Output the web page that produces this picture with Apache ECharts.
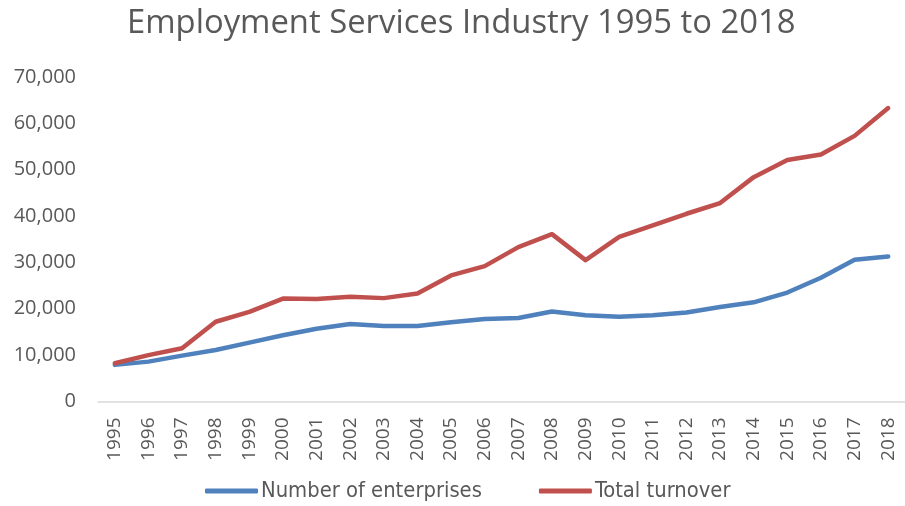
<!DOCTYPE html>
<html><head><meta charset="utf-8">
<script src="https://cdn.jsdelivr.net/npm/echarts@6/dist/echarts.min.js"></script>
<style>html,body{margin:0;padding:0;background:#fff}#c{width:905px;height:506px}</style>
</head><body><div id="c"></div>
<script>
const years = ['1995','1996','1997','1998','1999','2000','2001','2002','2003','2004','2005','2006','2007','2008','2009','2010','2011','2012','2013','2014','2015','2016','2017','2018'];
const enterprises = [7900,8600,9900,11100,12700,14300,15700,16700,16300,16300,17100,17800,18000,19400,18600,18300,18600,19200,20400,21400,23500,26700,30600,31300];
const turnover = [8240,10000,11500,17200,19350,22200,22100,22600,22300,23300,27200,29200,33300,36100,30500,35500,38000,40500,42800,48400,52100,53300,57300,63300];
const seriesNames = ['Number of enterprises','Total turnover'];
const chart = echarts.init(document.getElementById('c'));
chart.setOption({
  animation:false,
  title:{text:'Employment Services Industry 1995 to 2018',left:122,top:2,
    textStyle:{fontFamily:'Open Sans',fontSize:32.8,fontWeight:'normal',color:'#595959'}},
  legend:{bottom:-1,left:200,itemWidth:53,itemHeight:5,itemGap:57,icon:'roundRect',
    textStyle:{fontFamily:'DejaVu Sans Condensed',fontSize:21.8,color:'#595959',padding:[0,0,0,-2]},
    data:seriesNames},
  grid:{left:98,top:77,width:815,height:324.5},
  xAxis:{type:'category',data:years,boundaryGap:true,
    axisLine:{lineStyle:{color:'#d9d9d9',width:1.5}},axisTick:{show:false},
    axisLabel:{rotate:90,fontFamily:'Open Sans',fontSize:19,color:'#595959',margin:16,interval:0}},
  yAxis:{type:'value',min:0,max:70000,interval:10000,splitLine:{show:false},
    axisLine:{show:false},axisTick:{show:false},
    axisLabel:{fontFamily:'Open Sans',fontSize:20,color:'#595959',margin:22,
      formatter:v=>v.toLocaleString('en-US')}},
  series:[
    {name:seriesNames[0],type:'line',data:enterprises,symbol:'none',lineStyle:{width:4.5,color:'#4f81bd',cap:'round',join:'round'},itemStyle:{color:'#4f81bd'}},
    {name:seriesNames[1],type:'line',data:turnover,symbol:'none',lineStyle:{width:4.5,color:'#c0504d',cap:'round',join:'round'},itemStyle:{color:'#c0504d'}}
  ]
});
</script></body></html>
